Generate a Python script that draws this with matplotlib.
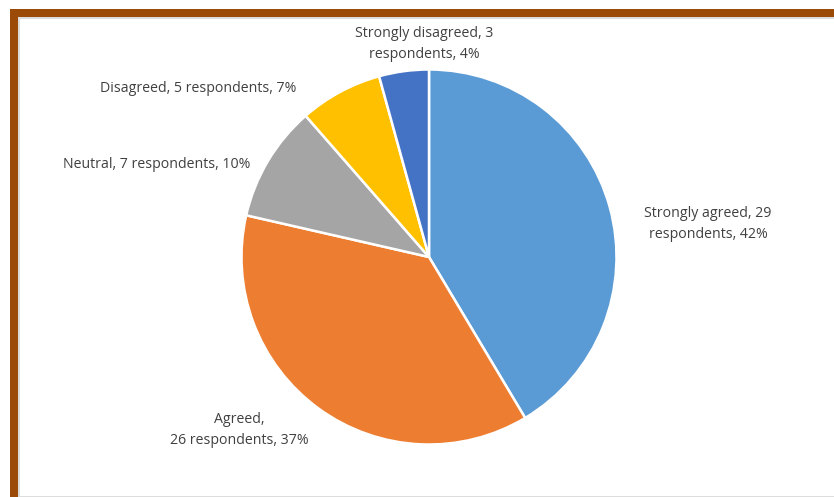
import matplotlib
matplotlib.use("Agg")
import matplotlib.pyplot as plt
from matplotlib.patches import Rectangle

categories = ["Strongly agreed", "Agreed", "Neutral", "Disagreed", "Strongly disagreed"]
respondents = [29, 26, 7, 5, 3]
percent_labels = ["42%", "37%", "10%", "7%", "4%"]
colors = ["#5B9BD5", "#ED7D31", "#A5A5A5", "#FFC000", "#4472C4"]

W, H = 834, 497
fig = plt.figure(figsize=(W / 100, H / 100), dpi=100)
fig.patch.set_facecolor("white")

# border (brown frame top/left with light gray inner line)
brown = "#9C4A08"
fig.patches.append(Rectangle((10 / W, 1 - 17 / H), 1 - 10 / W, 8 / H, transform=fig.transFigure,
                             facecolor=brown, edgecolor="none"))
fig.patches.append(Rectangle((10 / W, 0), 8 / W, 1 - 9 / H, transform=fig.transFigure,
                             facecolor=brown, edgecolor="none"))
fig.patches.append(Rectangle((18 / W, 1 - 19 / H), 1 - 18 / W, 2 / H, transform=fig.transFigure,
                             facecolor="#DDDDDD", edgecolor="none"))
fig.patches.append(Rectangle((18 / W, 0), 2 / W, 1 - 19 / H, transform=fig.transFigure,
                             facecolor="#DDDDDD", edgecolor="none"))
fig.patches.append(Rectangle((18 / W, 0), 1 - 18 / W, 1.5 / H, transform=fig.transFigure,
                             facecolor="#DDDDDD", edgecolor="none"))

ax = fig.add_axes([0, 0, 1, 1])

cx, cy, r = 429, H - 257, 187.5
ax.pie(respondents, colors=colors, startangle=90, counterclock=False,
       center=(cx, cy), radius=r, frame=True,
       wedgeprops=dict(edgecolor="white", linewidth=1.8))
ax.set_xlim(0, W)
ax.set_ylim(0, H)
ax.set_aspect("equal")
ax.axis("off")

label_texts = [
    f"{categories[0]}, {respondents[0]}\nrespondents, {percent_labels[0]}",
    f"{categories[1]},\n{respondents[1]} respondents, {percent_labels[1]}",
    f"{categories[2]}, {respondents[2]} respondents, {percent_labels[2]}",
    f"{categories[3]}, {respondents[3]} respondents, {percent_labels[3]}",
    f"{categories[4]}, {respondents[4]}\nrespondents, {percent_labels[4]}",
]
label_pos = [(708, 224), (239, 430), (157, 165), (198, 88), (424, 44)]
for txt, (x, y) in zip(label_texts, label_pos):
    ax.text(x, H - y, txt, ha="center", va="center", fontsize=10.2,
            color="#404040", family=["Open Sans", "DejaVu Sans"], linespacing=1.6)

fig.savefig("out.png", dpi=100, facecolor="white")
